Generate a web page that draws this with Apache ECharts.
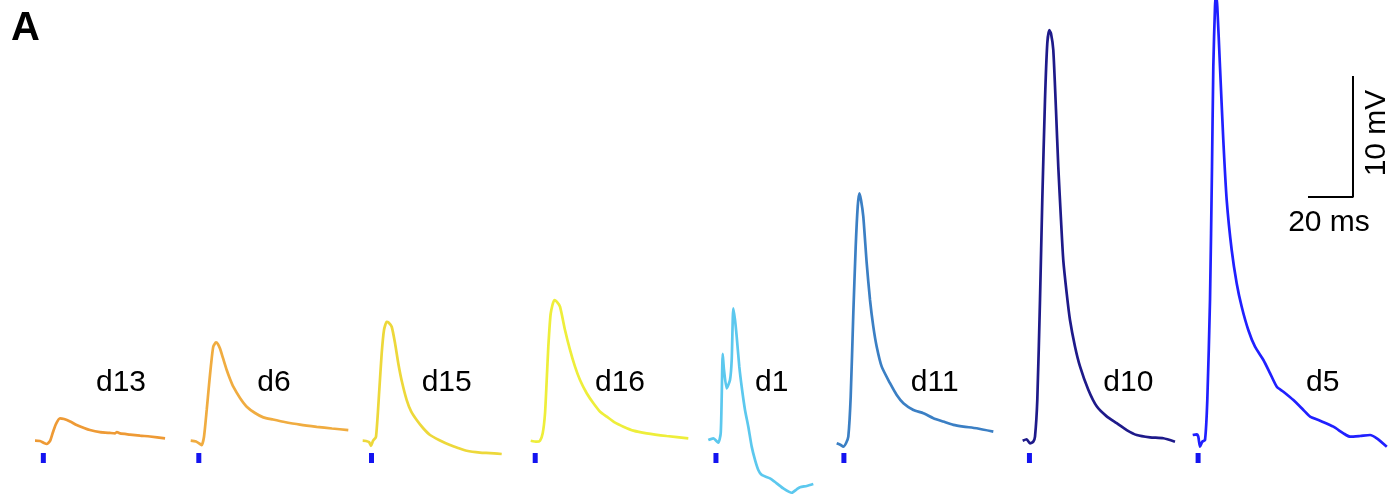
<!DOCTYPE html>
<html><head><meta charset="utf-8">
<script src="https://cdn.jsdelivr.net/npm/echarts@6/dist/echarts.min.js"></script>
<style>html,body{margin:0;padding:0;background:#fff}#c{width:1392px;height:500px}</style>
</head><body><div id="c"></div>
<script>
// ---------------- DATA (time in ms from trace start, voltage in mV from baseline) ----------------
const traceNames = ['d13', 'd6', 'd15', 'd16', 'd1', 'd11', 'd10', 'd5'];

const d13Time = [0, 2.2, 4.0, 5.2, 6.7, 8.0, 9.3, 11.1, 12.9, 15.6, 18.5, 21.8, 24.4, 28.9, 33.3, 35.6, 36.4, 37.8, 42.2, 46.7, 51.1, 57.8];
const d13Volt = [0, -0.02, -0.19, -0.27, -0.02, 0.72, 1.38, 1.85, 1.79, 1.59, 1.30, 1.05, 0.88, 0.71, 0.64, 0.61, 0.72, 0.60, 0.51, 0.42, 0.35, 0.20];

const d6Time = [0, 2.36, 4.13, 4.89, 5.91, 7.11, 8.13, 9.02, 10.04, 11.24, 12.13, 13.02, 14.36, 16.0, 17.47, 18.93, 21.91, 24.89, 28.58, 32.27, 36.58, 41.16, 48.58, 56.0, 62.8, 70.04];
const d6Volt = [0, -0.07, -0.27, -0.36, 0.33, 2.54, 4.6, 6.26, 7.78, 8.12, 7.98, 7.62, 6.82, 5.84, 5.10, 4.46, 3.53, 2.81, 2.29, 1.93, 1.75, 1.57, 1.33, 1.15, 1.01, 0.88];

const d15Time = [0, 1.47, 2.8, 3.69, 4.58, 5.91, 7.38, 8.44, 9.47, 10.67, 11.47, 12.89, 14.36, 15.82, 17.47, 19.56, 21.47, 24.0, 26.8, 29.91, 34.36, 38.8, 42.36, 46.22, 52.13, 56.58, 61.78];
const d15Volt = [0, -0.02, -0.11, -0.42, -0.02, 0.33, 4.19, 7.22, 9.15, 9.83, 9.77, 9.42, 8.07, 6.39, 4.85, 3.36, 2.45, 1.71, 1.05, 0.47, 0.02, -0.36, -0.60, -0.83, -0.98, -1.02, -1.10];

const d16Time = [0, 2.67, 4.13, 5.33, 6.36, 7.11, 7.82, 8.89, 10.49, 11.56, 13.02, 15.24, 17.47, 19.69, 21.91, 24.89, 27.87, 30.84, 33.82, 37.51, 41.2, 45.64, 51.56, 60.44, 70.04];
const d16Volt = [0, -0.08, 0, 0.61, 2.25, 5.0, 7.75, 10.51, 11.63, 11.49, 11.08, 9.15, 7.50, 6.12, 5.02, 3.92, 3.09, 2.40, 1.99, 1.49, 1.16, 0.83, 0.61, 0.39, 0.20];

const d1Time = [0, 2.22, 4.44, 5.51, 5.96, 6.4, 6.98, 8.18, 9.64, 10.4, 11.11, 11.87, 12.62, 13.78, 14.84, 16.31, 17.78, 19.29, 20.76, 22.22, 23.73, 27.42, 30.4, 33.33, 37.07, 39.29, 40.76, 43.73, 46.67];
const d1Volt = [0, 0.14, -0.22, 0.55, 3.58, 7.11, 5.79, 4.27, 4.96, 6.61, 10.88, 9.92, 8.54, 6.06, 4.40, 2.48, 1.1, -0.55, -1.65, -2.48, -2.89, -3.17, -3.58, -4.0, -4.36, -4.08, -3.91, -3.80, -3.64];

const d11Time = [0, 1.78, 2.93, 4.13, 5.16, 6.22, 7.38, 8.44, 9.33, 10.04, 10.8, 11.82, 13.33, 14.8, 16.27, 17.78, 20.0, 23.69, 26.67, 29.64, 34.09, 38.53, 42.98, 47.42, 51.87, 56.31, 62.22, 69.6];
const d11Volt = [0, -0.14, -0.28, 0, 0.55, 3.86, 10.74, 16.25, 19.56, 20.66, 20.11, 18.73, 14.88, 11.84, 9.64, 7.98, 6.33, 4.96, 3.99, 3.31, 2.75, 2.48, 2.07, 1.79, 1.52, 1.38, 1.24, 0.96];

const d10Time = [0, 1.78, 3.24, 4.71, 5.47, 6.49, 7.69, 8.71, 9.91, 10.93, 11.82, 12.58, 13.6, 14.8, 15.82, 17.02, 18.04, 19.56, 21.02, 23.24, 25.47, 29.16, 32.89, 37.33, 41.78, 46.22, 50.67, 56.58, 62.49, 67.69];
const d10Volt = [0, 0.12, -0.22, -0.08, 0.33, 3.36, 11.63, 19.89, 28.16, 32.84, 33.93, 33.66, 32.29, 27.33, 22.64, 18.26, 14.93, 12.18, 9.98, 7.79, 6.14, 4.21, 2.84, 2.01, 1.45, 0.88, 0.47, 0.28, 0.20, -0.08];

const d5Time = [0, 1.78, 2.49, 3.24, 4.27, 5.47, 6.49, 7.69, 8.58, 9.16, 9.91, 10.36, 10.93, 12.13, 13.6, 15.11, 17.33, 19.56, 21.78, 24.71, 27.69, 31.42, 34.4, 37.38, 40.31, 44.76, 49.2, 52.18, 56.62, 62.53, 66.98, 69.96, 74.4, 78.84, 81.82, 86.27];
const d5Volt = [0, 0.06, -0.14, -0.97, -0.55, -0.41, 2.89, 11.16, 22.17, 30.44, 35.40, 36.36, 35.40, 30.44, 24.38, 19.42, 15.29, 12.53, 10.6, 8.68, 7.30, 6.2, 5.1, 3.99, 3.58, 2.89, 2.07, 1.52, 1.18, 0.69, 0.14, -0.14, -0.08, 0, -0.28, -0.97];

const stimTimes = [3.7, 3.6, 3.9, 2.0, 3.4, 3.2, 3.0, 2.4];   // stimulus onset, ms after trace start
const scaleBarTime = 20;   // ms
const scaleBarVolt = 10;   // mV
const scaleBarLabels = ['20 ms', '10 mV'];
const panelLabel = 'A';

// ---------------- LAYOUT / STYLE ----------------
const W = 1392, H = 500;
const PX_PER_MS = 2.25, PX_PER_MV = 12.1;
const traceStartMs = [15.56, 84.76, 161.2, 235.87, 314.8, 371.87, 454.53, 530.09];
const traceBaseMv = [4.90, 4.90, 4.90, 4.90, 4.96, 4.69, 4.90, 5.37];
const labelPos = [[53.78, 9.67], [121.78, 9.67], [198.53, 9.67], [275.56, 9.67], [342.98, 9.67], [415.42, 9.67], [501.47, 9.67], [587.87, 9.67]];
const stimLevelMv = 3.47;
const scaleCorner = [601.33, 25.04];
const colors = ['#EE9A35', '#F0AC40', '#EDD83A', '#EEEE3A', '#5CC8EE', '#3B7FC4', '#1E1A8A', '#2020FF'];
const stimColor = '#1414F0';
const FONT = "'Liberation Sans', Arial, sans-serif";

const times = [d13Time, d6Time, d15Time, d16Time, d1Time, d11Time, d10Time, d5Time];
const volts = [d13Volt, d6Volt, d15Volt, d16Volt, d1Volt, d11Volt, d10Volt, d5Volt];

const series = [];
traceNames.forEach((name, i) => {
  series.push({
    type: 'line', name: name, symbol: 'none', smooth: 0.2, clip: true,
    lineStyle: { color: colors[i], width: 2.7 },
    data: times[i].map((t, k) => [traceStartMs[i] + t, traceBaseMv[i] + volts[i][k]]),
    z: 3
  });
});
series.push({
  type: 'scatter', name: 'stim', symbol: 'rect', symbolSize: [5, 10],
  itemStyle: { color: stimColor, opacity: 1 },
  data: stimTimes.map((t, i) => [traceStartMs[i] + t, stimLevelMv]),
  z: 4
});
series.push({
  type: 'line', name: 'scalebar', symbol: 'none',
  lineStyle: { color: '#000', width: 2 },
  data: [[scaleCorner[0] - scaleBarTime, scaleCorner[1]], scaleCorner, [scaleCorner[0], scaleCorner[1] + scaleBarVolt]]
});
series.push({
  type: 'scatter', name: 'labels', symbolSize: 0, silent: true,
  itemStyle: { opacity: 1 },
  label: { show: true, position: 'inside', formatter: '{b}', color: '#000', fontSize: 30, fontFamily: FONT, opacity: 1 },
  data: traceNames.map((n, i) => ({ name: n, value: labelPos[i] })).concat([
    { name: scaleBarLabels[0], value: [scaleCorner[0] - 10.67, scaleCorner[1] - 2.15] },
    { name: scaleBarLabels[1], value: [scaleCorner[0] + 10.67, scaleCorner[1] + 5.29], label: { rotate: 90 } }
  ])
});

const chart = echarts.init(document.getElementById('c'), null, { renderer: 'canvas' });
chart.setOption({
  animation: false,
  backgroundColor: '#fff',
  grid: { left: 0, right: 0, top: 0, bottom: 0 },
  xAxis: { type: 'value', min: 0, max: W / PX_PER_MS, show: false },
  yAxis: { type: 'value', min: 0, max: H / PX_PER_MV, show: false },
  graphic: [{
    type: 'text', left: 11, top: 9,
    style: { text: panelLabel, font: "bold 40px " + FONT, fill: '#000' }
  }],
  series: series
});
</script></body></html>
